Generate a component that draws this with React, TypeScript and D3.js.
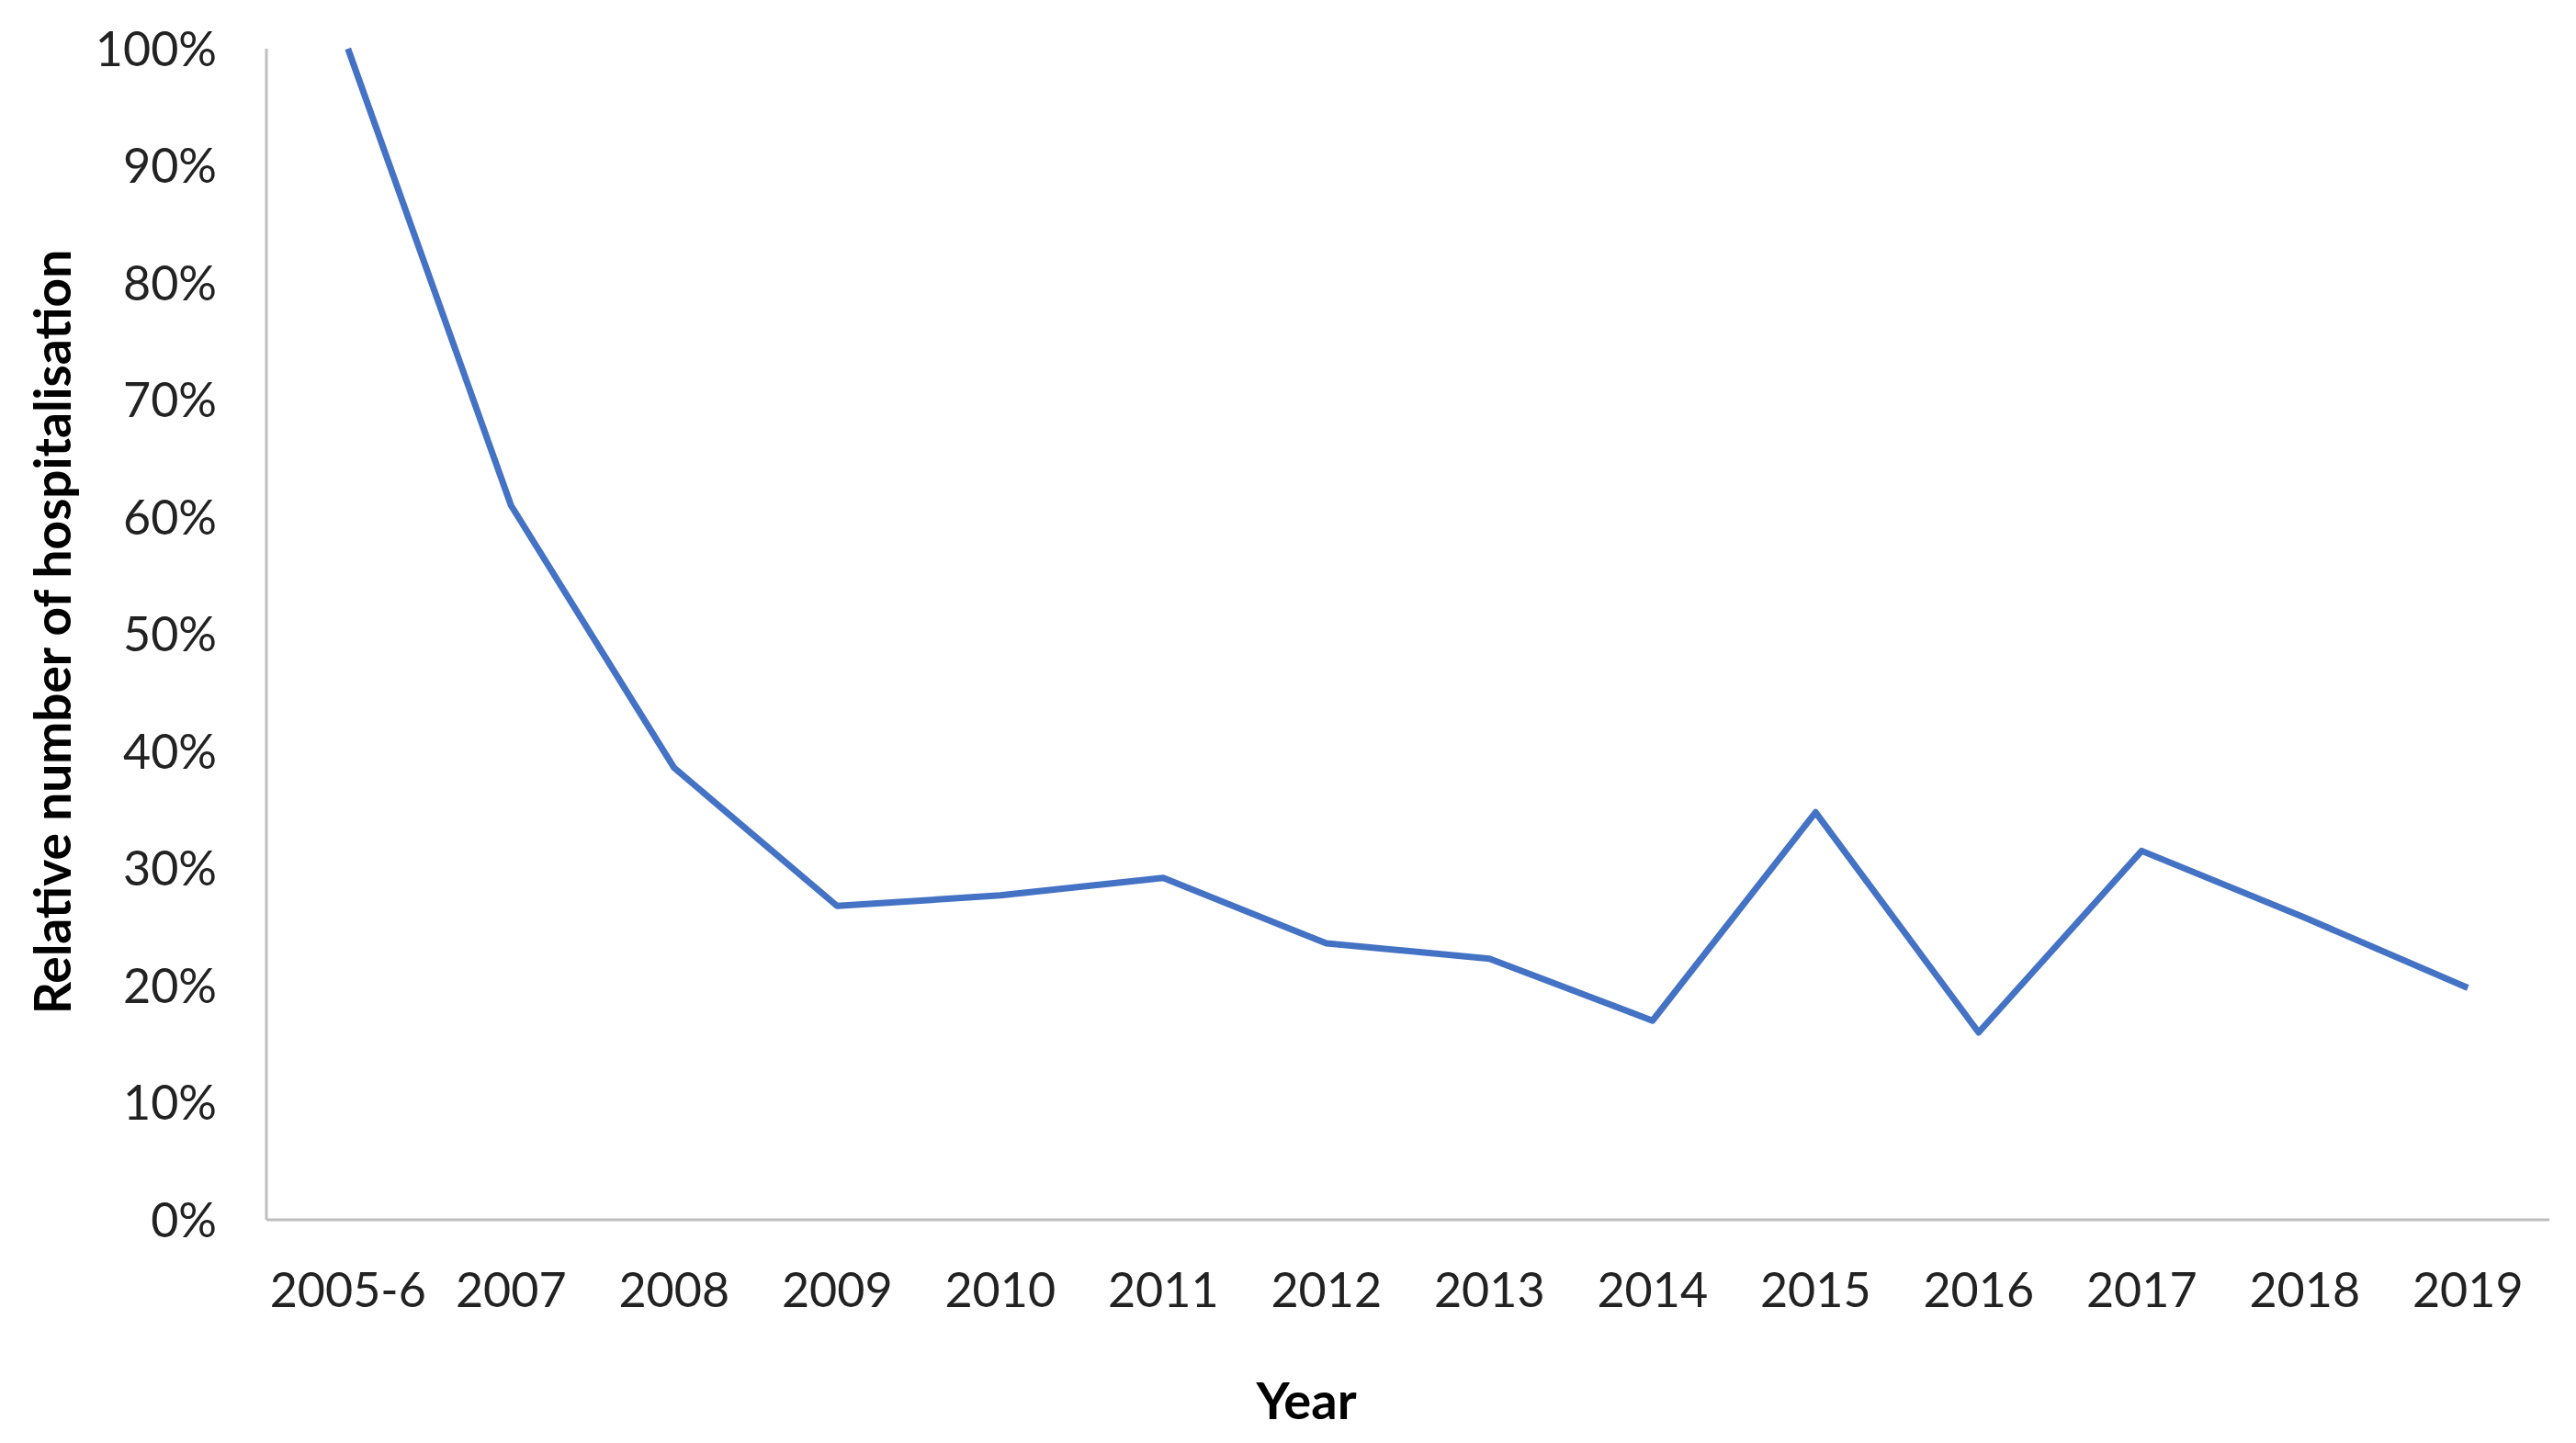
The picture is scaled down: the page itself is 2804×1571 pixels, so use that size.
import React, { useEffect, useRef } from "react";
import * as d3 from "d3";

const categories = ["2005-6", "2007", "2008", "2009", "2010", "2011", "2012", "2013", "2014", "2015", "2016", "2017", "2018", "2019"];
const values = [100, 61, 38.6, 26.8, 27.7, 29.2, 23.6, 22.3, 17.0, 34.8, 16.0, 31.5, 25.8, 19.8];
const yTicks = [0, 10, 20, 30, 40, 50, 60, 70, 80, 90, 100];
const yTitle = "Relative number of hospitalisation";
const xTitle = "Year";

const W = 2804;
const H = 1571;
const FONT = "Lato, 'Open Sans', sans-serif";

export default function App() {
  const ref = useRef<SVGSVGElement>(null);
  useEffect(() => {
    const svg = d3.select(ref.current);
    svg.selectAll("*").remove();
    const left = 290, right = 2775, top = 53, bottom = 1328;
    const x = d3.scaleBand<string>().domain(categories).range([left, right]).padding(0);
    const y = d3.scaleLinear().domain([0, 100]).range([bottom, top]);

    svg.append("rect").attr("width", W).attr("height", H).attr("fill", "#fff");

    // axes lines
    svg.append("line").attr("x1", left).attr("x2", left).attr("y1", y(100)).attr("y2", y(0))
      .attr("stroke", "#BFBFBF").attr("stroke-width", 3);
    svg.append("line").attr("x1", left).attr("x2", right).attr("y1", y(0)).attr("y2", y(0))
      .attr("stroke", "#BFBFBF").attr("stroke-width", 3);

    // y tick labels
    svg.append("g").selectAll("text").data(yTicks).join("text")
      .attr("x", left - 54).attr("y", (d) => y(d)).attr("dy", "0.36em")
      .attr("text-anchor", "end").attr("font-family", FONT).attr("font-size", 52).attr("fill", "#222")
      .text((d) => `${d}%`);

    // x tick labels
    svg.append("g").selectAll("text").data(categories).join("text")
      .attr("x", (d) => (x(d) as number) + x.bandwidth() / 2).attr("y", 1404).attr("dy", "0.36em")
      .attr("text-anchor", "middle").attr("font-family", FONT).attr("font-size", 52).attr("fill", "#222")
      .text((d) => d);

    // line
    const line = d3.line<number>()
      .x((_, i) => (x(categories[i]) as number) + x.bandwidth() / 2)
      .y((d) => y(d));
    svg.append("path").datum(values).attr("d", line).attr("fill", "none")
      .attr("stroke", "#4472C4").attr("stroke-width", 7).attr("stroke-linejoin", "round");

    // titles
    svg.append("text").attr("transform", `translate(57, 688) rotate(-90)`).attr("dy", "0.36em")
      .attr("text-anchor", "middle").attr("font-family", FONT).attr("font-weight", "bold")
      .attr("font-size", 55).attr("fill", "#000").text(yTitle);
    svg.append("text").attr("x", 1422).attr("y", 1525).attr("dy", "0.36em")
      .attr("text-anchor", "middle").attr("font-family", FONT).attr("font-weight", "bold")
      .attr("font-size", 56).attr("fill", "#000").text(xTitle);
  }, []);
  return (
    <svg ref={ref} width={W} height={H} style={{ position: "absolute", left: 0, top: 0 }} />
  );
}
